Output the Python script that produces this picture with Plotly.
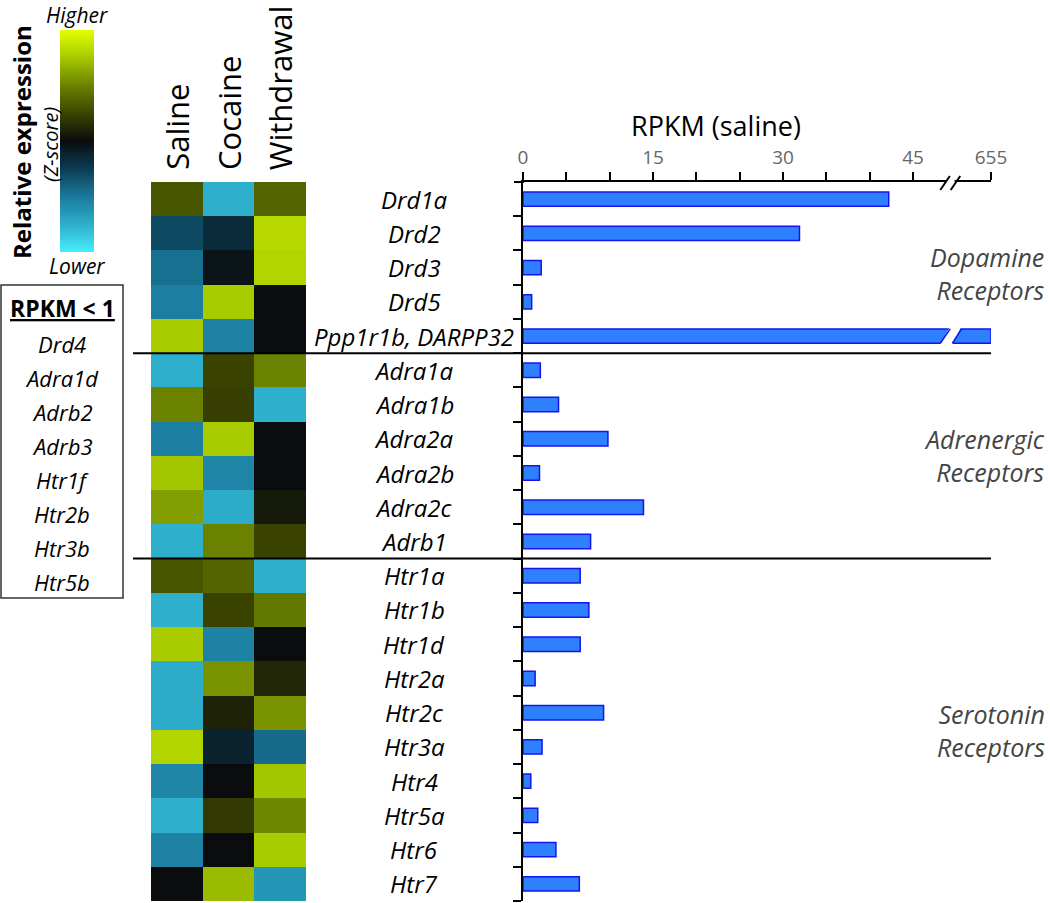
import numpy as np
import plotly.graph_objects as go

W, H = 1050, 903

# ---------------- data ----------------
genes = ["Drd1a", "Drd2", "Drd3", "Drd5", "Ppp1r1b, DARPP32",
         "Adra1a", "Adra1b", "Adra2a", "Adra2b", "Adra2c", "Adrb1",
         "Htr1a", "Htr1b", "Htr1d", "Htr2a", "Htr2c", "Htr3a", "Htr4",
         "Htr5a", "Htr6", "Htr7"]
conditions = ["Saline", "Cocaine", "Withdrawal"]
rpkm_saline = [42.2, 31.9, 2.1, 1.0, 655,
               2.0, 4.1, 9.8, 1.9, 13.9, 7.8,
               6.6, 7.6, 6.6, 1.4, 9.3, 2.2, 0.9, 1.7, 3.8, 6.5]
z_saline = [0.48, -0.45, -0.69, -0.78, 1.14,
            -1.14, 0.75, -0.78, 1.11, 0.90, -1.14,
            0.48, -1.14, 1.14, -1.11, -1.11, 1.20, -0.84, -1.14, -0.81, 0.00]
z_cocaine = [-1.14, -0.24, -0.06, 1.14, -0.81,
             0.36, 0.33, 1.14, -0.84, -1.11, 0.75,
             0.57, 0.36, -0.81, 0.84, 0.15, -0.18, 0.00, 0.30, 0.00, 1.05]
z_withdrawal = [0.57, 1.23, 1.20, 0.00, 0.00,
                0.75, -1.14, 0.00, 0.00, 0.09, 0.36,
                -1.14, 0.69, 0.00, 0.18, 0.84, -0.66, 1.11, 0.78, 1.14, -0.96]
low_rpkm_genes = ["Drd4", "Adra1d", "Adrb2", "Adrb3", "Htr1f", "Htr2b", "Htr3b", "Htr5b"]
groups = ["Dopamine", "Adrenergic", "Serotonin"]
group_sizes = [5, 6, 10]
tick_values = [0, 15, 30, 45]
broken_label = "655"

# broken-axis settings
AXIS_END = 54          # axis position where the "655" label sits
BREAK_AT = 49.3        # where the // break is drawn
ZMIN, ZMAX = -1.5, 1.5

# ---------------- helpers ----------------
def px(p):
    return p / W

def py(p):
    return 1 - p / H

FONT = "Open Sans"
n = len(genes)
rows = list(range(n))
display_vals = [v if v <= BREAK_AT else AXIS_END for v in rpkm_saline]

colorscale = [
    [0.00, "#45eefa"],
    [0.12, "#2eb0cc"],
    [0.25, "#1a7a9c"],
    [0.38, "#0b3a50"],
    [0.50, "#0a0c0e"],
    [0.62, "#3a4200"],
    [0.75, "#6b8200"],
    [0.88, "#a8cc00"],
    [1.00, "#e4ff00"],
]

zmat = [[z_saline[i], z_cocaine[i], z_withdrawal[i]] for i in range(n)]

fig = go.Figure()

fig.add_trace(go.Heatmap(
    z=zmat, x=conditions, y=rows,
    colorscale=colorscale, zmin=ZMIN, zmax=ZMAX, showscale=False,
    xaxis="x", yaxis="y", hoverinfo="skip",
))

# colour-scale legend (gradient strip)
scale_steps = np.linspace(ZMIN, ZMAX, 240)
fig.add_trace(go.Heatmap(
    z=[[s] for s in scale_steps], y=list(scale_steps), x=[0],
    colorscale=colorscale, zmin=ZMIN, zmax=ZMAX, showscale=False,
    xaxis="x3", yaxis="y3", hoverinfo="skip",
))

fig.add_trace(go.Bar(
    x=display_vals, y=rows, orientation="h",
    xaxis="x2", yaxis="y2", width=0.42,
    marker=dict(color="#2f80ff", line=dict(color="#1414ee", width=1.5)),
    hoverinfo="skip",
))

y_dom = [py(901), py(182)]
tickvals = list(range(0, 50, 5)) + [AXIS_END]
ticktext = [str(t) if t in tick_values else "" for t in range(0, 50, 5)] + [broken_label]

hidden = dict(showticklabels=False, showgrid=False, zeroline=False, showline=False, ticks="")

fig.update_layout(
    width=W, height=H,
    margin=dict(l=0, r=0, t=0, b=0, autoexpand=False),
    paper_bgcolor="white", plot_bgcolor="white",
    showlegend=False,
    font=dict(family=FONT, color="black"),
    xaxis=dict(domain=[px(151), px(306)], **hidden),
    yaxis=dict(domain=y_dom, range=[n - 0.5, -0.5], **hidden),
    xaxis3=dict(domain=[px(60), px(94)], anchor="y3", **hidden),
    yaxis3=dict(domain=[py(252), py(30)], anchor="x3",
                range=[ZMIN, ZMAX], **hidden),
    xaxis2=dict(domain=[px(523), px(991)], range=[0, AXIS_END], anchor="y2",
                side="top", showline=True, linecolor="black", linewidth=2,
                ticks="outside", ticklen=8, tickwidth=2, tickcolor="black",
                tickvals=tickvals, ticktext=ticktext,
                tickfont=dict(size=19, color="#666666", family=FONT),
                showgrid=False, zeroline=False),
    yaxis2=dict(domain=y_dom, range=[n - 0.5, -0.5], anchor="x2",
                showline=True, linecolor="black", linewidth=2,
                ticks="outside", ticklen=8, tickwidth=2, tickcolor="black",
                tickvals=[i + 0.5 for i in range(n)], showticklabels=False,
                showgrid=False, zeroline=False),
)

shapes = []
# group separator lines
cum = 0
for s in group_sizes[:-1]:
    cum += s
    shapes.append(dict(type="line", xref="paper", yref="y2",
                       x0=px(133), x1=px(991), y0=cum - 0.5, y1=cum - 0.5,
                       line=dict(color="black", width=2)))
# axis line stub left of y axis
shapes.append(dict(type="line", xref="paper", yref="paper",
                   x0=px(514), x1=px(524), y0=py(182), y1=py(182),
                   line=dict(color="black", width=2)))
# break in the bar(s)
for i, v in enumerate(rpkm_saline):
    if v > BREAK_AT:
        x_a, x_b = BREAK_AT - 1.15, BREAK_AT          # left slanted edge (bottom, top)
        x_c, x_d = BREAK_AT + 0.25, BREAK_AT + 1.3    # right slanted edge (bottom, top)
        h = 0.21
        shapes.append(dict(type="path", xref="x2", yref="y2",
                           path=f"M {x_a-0.2} {i+h+0.12} L {x_b+0.1} {i-h-0.12} L {x_d+0.1} {i-h-0.12} L {x_c-0.2} {i+h+0.12} Z",
                           fillcolor="white", line=dict(width=0)))
        shapes.append(dict(type="line", xref="x2", yref="y2",
                           x0=x_a, y0=i + h, x1=x_b, y1=i - h,
                           line=dict(color="#1414ee", width=1.5)))
        shapes.append(dict(type="line", xref="x2", yref="y2",
                           x0=x_c, y0=i + h, x1=x_d, y1=i - h,
                           line=dict(color="#1414ee", width=1.5)))
# axis break //
shapes.append(dict(type="rect", xref="x2", yref="paper",
                   x0=BREAK_AT - 0.5, x1=BREAK_AT + 0.5, y0=py(185), y1=py(179),
                   fillcolor="white", line=dict(width=0)))
for off in (-0.6, 0.6):
    shapes.append(dict(type="line", xref="x2", yref="paper",
                       x0=BREAK_AT + off - 0.55, x1=BREAK_AT + off + 0.55,
                       y0=py(190), y1=py(176),
                       line=dict(color="black", width=2)))
# RPKM < 1 box
shapes.append(dict(type="rect", xref="paper", yref="paper",
                   x0=px(1), x1=px(123), y0=py(598), y1=py(285),
                   line=dict(color="#333333", width=1.5), fillcolor="rgba(0,0,0,0)"))
fig.update_layout(shapes=shapes)

ann = []
# gene labels
for i, g in enumerate(genes):
    ann.append(dict(text=f"<i>{g}</i>", xref="paper", yref="y2", x=px(414), y=i,
                    xanchor="center", yanchor="middle", showarrow=False,
                    font=dict(size=24, family=FONT, color="black")))
# condition labels
for c in conditions:
    ann.append(dict(text=c, xref="x", yref="paper", x=c, y=py(172),
                    textangle=-90, xanchor="center", yanchor="bottom",
                    showarrow=False, font=dict(size=31, family=FONT, color="black")))
# group labels
group_centers = [2.16, 7.5, 15.53]
for g, yc in zip(groups, group_centers):
    ann.append(dict(text=f"<i>{g}<br>Receptors</i>", xref="paper", yref="y2",
                    x=px(1047), y=yc, xanchor="right", yanchor="middle", align="right",
                    showarrow=False, font=dict(size=25, family=FONT, color="#444444")))
# axis title
ann.append(dict(text="RPKM (saline)", xref="paper", yref="paper", x=px(716), y=py(125),
                xanchor="center", yanchor="middle", showarrow=False,
                font=dict(size=27, family=FONT, color="black")))
# colour-scale texts
ann.append(dict(text="<i>Higher</i>", xref="paper", yref="paper", x=px(77), y=py(15),
                xanchor="center", yanchor="middle", showarrow=False,
                font=dict(size=21, family=FONT, color="black")))
ann.append(dict(text="<i>Lower</i>", xref="paper", yref="paper", x=px(77), y=py(266),
                xanchor="center", yanchor="middle", showarrow=False,
                font=dict(size=21, family=FONT, color="black")))
ann.append(dict(text="<b>Relative expression</b>", xref="paper", yref="paper",
                x=px(21), y=py(142), textangle=-90, xanchor="center", yanchor="middle",
                showarrow=False, font=dict(size=24, family=FONT, color="black")))
ann.append(dict(text="<i>(Z-score)</i>", xref="paper", yref="paper",
                x=px(50), y=py(145), textangle=-90, xanchor="center", yanchor="middle",
                showarrow=False, font=dict(size=20, family=FONT, color="black")))
# RPKM < 1 box texts
ann.append(dict(text="<b><u>RPKM &lt; 1</u></b>", xref="paper", yref="paper",
                x=px(62), y=py(308), xanchor="center", yanchor="middle", showarrow=False,
                font=dict(size=23, family=FONT, color="black")))
for k, g in enumerate(low_rpkm_genes):
    ann.append(dict(text=f"<i>{g}</i>", xref="paper", yref="paper",
                    x=px(62), y=py(344 + k * 34), xanchor="center", yanchor="middle",
                    showarrow=False, font=dict(size=22, family=FONT, color="black")))
fig.update_layout(annotations=ann)

fig.write_html("out.html", config={"displayModeBar": False},
               post_script="document.body.style.margin='0';document.body.style.overflow='hidden';")
